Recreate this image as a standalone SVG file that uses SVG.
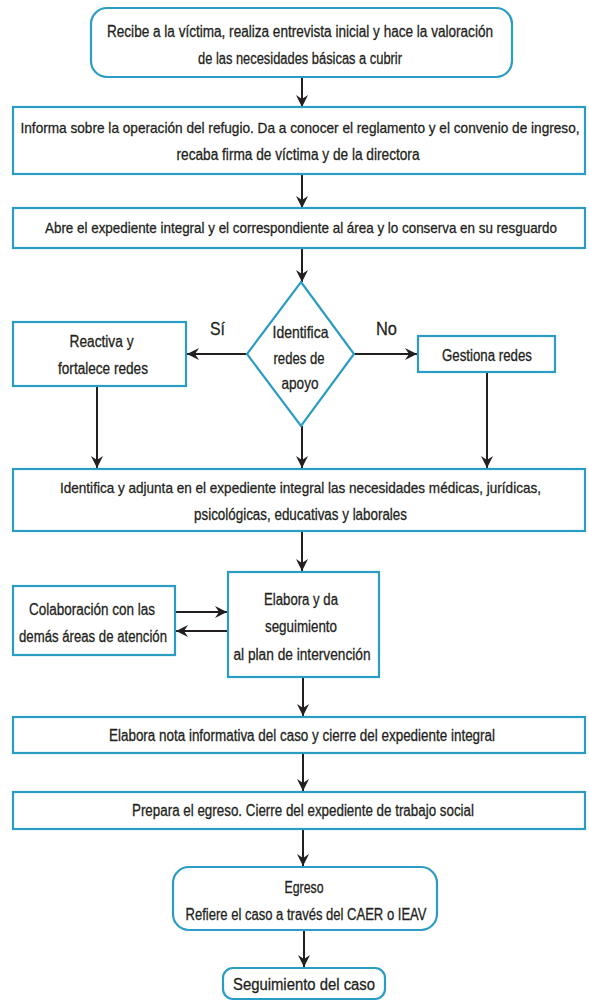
<svg xmlns="http://www.w3.org/2000/svg" width="589" height="1001" viewBox="0 0 589 1001">
<style>
.box{fill:#fff;stroke:#2b9cc4;stroke-width:2.2}
.t{font-family:"Liberation Sans Narrow","Liberation Sans",Arial,sans-serif;font-size:16px;fill:#231f20;stroke:#231f20;stroke-width:0.3;text-anchor:middle}
.d{font-size:16.5px}
.s{font-size:15px}
.lbl{font-family:"Liberation Sans Narrow","Liberation Sans",Arial,sans-serif;font-size:19px;fill:#231f20;stroke:#231f20;stroke-width:0.3;text-anchor:middle}
.c{stroke:#231f20;stroke-width:2;fill:none;marker-end:url(#ah)}
</style>
<defs>
<marker id="ah" markerUnits="userSpaceOnUse" markerWidth="14" markerHeight="12" refX="12" refY="6" orient="auto">
<path d="M0,0 L12,6 L0,12 L4,6 z" fill="#231f20"/>
</marker>
</defs>
<rect width="589" height="1001" fill="#fff"/>
<g id="connectors">
<line class="c" x1="302" y1="77" x2="302" y2="107"/>
<line class="c" x1="302" y1="174" x2="302" y2="208"/>
<line class="c" x1="302" y1="248" x2="302" y2="282"/>
<line class="c" x1="247" y1="354" x2="187" y2="354"/>
<line class="c" x1="354" y1="354" x2="417" y2="354"/>
<line class="c" x1="97" y1="386" x2="97" y2="468"/>
<line class="c" x1="302" y1="426" x2="302" y2="468"/>
<line class="c" x1="487" y1="372" x2="487" y2="468"/>
<line class="c" x1="302" y1="531" x2="302" y2="571"/>
<line class="c" x1="175" y1="612" x2="227" y2="612"/>
<line class="c" x1="227" y1="631" x2="176" y2="631"/>
<line class="c" x1="303" y1="677" x2="303" y2="716"/>
<line class="c" x1="303" y1="753" x2="303" y2="791"/>
<line class="c" x1="303" y1="829" x2="303" y2="866"/>
<line class="c" x1="304" y1="930" x2="304" y2="967"/>
<text class="lbl" x="217.5" y="335" textLength="15" lengthAdjust="spacingAndGlyphs">Sí</text>
<text class="lbl" x="386.5" y="335" textLength="21" lengthAdjust="spacingAndGlyphs">No</text>
</g>
<g id="n1">
<rect class="box" x="91" y="8" width="421" height="69" rx="16"/>
<text class="t" x="300" y="37" textLength="386" lengthAdjust="spacingAndGlyphs">Recibe a la víctima, realiza entrevista inicial y hace la valoración</text>
<text class="t" x="300" y="64" textLength="204" lengthAdjust="spacingAndGlyphs">de las necesidades básicas a cubrir</text>
</g>
<g id="n2">
<rect class="box" x="13" y="107" width="572" height="67"/>
<text class="t s" x="300" y="133" textLength="559" lengthAdjust="spacingAndGlyphs">Informa sobre la operación del refugio. Da a conocer el reglamento y el convenio de ingreso,</text>
<text class="t" x="298" y="160" textLength="243" lengthAdjust="spacingAndGlyphs">recaba firma de víctima y de la directora</text>
</g>
<g id="n3">
<rect class="box" x="13" y="208" width="572" height="40"/>
<text class="t s" x="301" y="233" textLength="512" lengthAdjust="spacingAndGlyphs">Abre el expediente integral y el correspondiente al área y lo conserva en su resguardo</text>
</g>
<g id="n4">
<polygon class="box" points="301,282 354,354 301,426 247,354"/>
<text class="t d" x="300.5" y="338" textLength="56" lengthAdjust="spacingAndGlyphs">Identifica</text>
<text class="t d" x="299" y="364" textLength="51" lengthAdjust="spacingAndGlyphs">redes de</text>
<text class="t d" x="300" y="389" textLength="37" lengthAdjust="spacingAndGlyphs">apoyo</text>
</g>
<g id="n5">
<rect class="box" x="13" y="322" width="173" height="64"/>
<text class="t" x="101.5" y="347" textLength="64" lengthAdjust="spacingAndGlyphs">Reactiva y</text>
<text class="t" x="103" y="374" textLength="90" lengthAdjust="spacingAndGlyphs">fortalece redes</text>
</g>
<g id="n6">
<rect class="box" x="418" y="336" width="137" height="36"/>
<text class="t" x="487" y="361" textLength="90" lengthAdjust="spacingAndGlyphs">Gestiona redes</text>
</g>
<g id="n7">
<rect class="box" x="13" y="469" width="572" height="62"/>
<text class="t s" x="300.5" y="493" textLength="481" lengthAdjust="spacingAndGlyphs">Identifica y adjunta en el expediente integral las necesidades médicas, jurídicas,</text>
<text class="t" x="300.5" y="520" textLength="213" lengthAdjust="spacingAndGlyphs">psicológicas, educativas y laborales</text>
</g>
<g id="n8">
<rect class="box" x="13" y="586" width="162" height="69"/>
<text class="t" x="92" y="615" textLength="126" lengthAdjust="spacingAndGlyphs">Colaboración con las</text>
<text class="t" x="93" y="642" textLength="148" lengthAdjust="spacingAndGlyphs">demás áreas de atención</text>
</g>
<g id="n9">
<rect class="box" x="228" y="572" width="151" height="105"/>
<text class="t" x="301" y="605" textLength="74" lengthAdjust="spacingAndGlyphs">Elabora y da</text>
<text class="t" x="301" y="632" textLength="72" lengthAdjust="spacingAndGlyphs">seguimiento</text>
<text class="t" x="302" y="660" textLength="137" lengthAdjust="spacingAndGlyphs">al plan de intervención</text>
</g>
<g id="n10">
<rect class="box" x="13" y="717" width="572" height="36"/>
<text class="t" x="302" y="741" textLength="386" lengthAdjust="spacingAndGlyphs">Elabora nota informativa del caso y cierre del expediente integral</text>
</g>
<g id="n11">
<rect class="box" x="13" y="792" width="572" height="37"/>
<text class="t" x="303" y="816" textLength="342" lengthAdjust="spacingAndGlyphs">Prepara el egreso. Cierre del expediente de trabajo social</text>
</g>
<g id="n12">
<rect class="box" x="173" y="867" width="264" height="63" rx="16"/>
<text class="t" x="304" y="893" textLength="39" lengthAdjust="spacingAndGlyphs">Egreso</text>
<text class="t" x="306" y="920" textLength="241" lengthAdjust="spacingAndGlyphs">Refiere el caso a través del CAER o IEAV</text>
</g>
<g id="n13">
<rect class="box" x="223" y="968" width="162" height="31" rx="10"/>
<text class="t" x="304" y="990" textLength="142" lengthAdjust="spacingAndGlyphs">Seguimiento del caso</text>
</g>
</svg>
